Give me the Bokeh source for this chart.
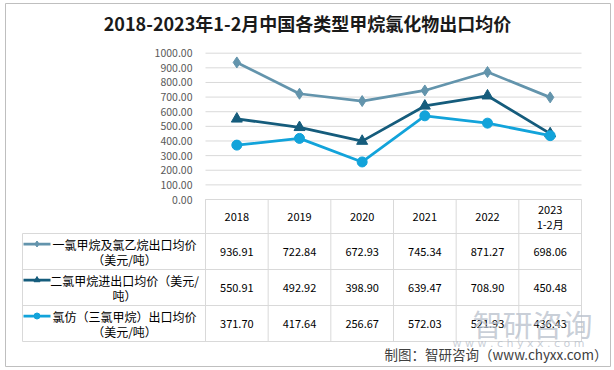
from bokeh.plotting import figure
from bokeh.models import Range1d
from bokeh.core.properties import value
from bokeh.embed import file_html
from bokeh.resources import INLINE

# ---------------- data ----------------
categories = ["2018", "2019", "2020", "2021", "2022", "2023\n1-2月"]
series_names = [
    "一氯甲烷及氯乙烷出口均价\n（美元/吨）",
    "二氯甲烷进出口均价（美元/\n吨）",
    "氯仿（三氯甲烷）出口均价\n（美元/吨）",
]
s1 = [936.91, 722.84, 672.93, 745.34, 871.27, 698.06]
s2 = [550.91, 492.92, 398.90, 639.47, 708.90, 450.48]
s3 = [371.70, 417.64, 256.67, 572.03, 521.93, 436.43]
y_ticks = [0, 100, 200, 300, 400, 500, 600, 700, 800, 900, 1000]
title_text = "2018-2023年1-2月中国各类型甲烷氯化物出口均价"
source_text = "制图：智研咨询（www.chyxx.com）"

# ---------------- layout (page pixels) ----------------
W, H = 614, 370
OFF = 0
TABLE_L, TABLE_R = 205.0, 581.0
LEG_L = 22.0
COL_W = (TABLE_R - TABLE_L) / len(categories)
PLOT_TOP, PLOT_BOT = 52.7, 199.0
K = (PLOT_BOT - PLOT_TOP) / 1000.0
ROW_Y = [199.0, 233.0, 269.0, 305.0, 341.0]

FONT = value("Noto Sans CJK SC")
colors = ["#6394AC", "#155C7C", "#12A3DA"]
markers = ["diamond", "triangle", "circle"]
msizes = [11, 11, 10]


def fx(px):
    return px - OFF


def fy(py):
    return py - OFF


p = figure(width=W, height=H, x_range=Range1d(0, W), y_range=Range1d(H, 0),
           output_backend="svg", toolbar_location=None, min_border=0)
p.axis.visible = False
p.grid.visible = False
p.outline_line_color = None
p.background_fill_color = "white"
p.border_fill_color = "white"

cat_start = (0 - fx(TABLE_L)) / COL_W - 0.5
cat_end = (W - fx(TABLE_L)) / COL_W - 0.5
val_start = (fy(PLOT_BOT) - H) / K
val_end = fy(PLOT_BOT) / K
p.extra_x_ranges = {"cat": Range1d(cat_start, cat_end)}
p.extra_y_ranges = {"val": Range1d(val_start, val_end)}

# outer chart border
p.quad(left=[fx(5)], right=[fx(610)], top=[fy(3)], bottom=[fy(366)],
       fill_color=None, line_color="#BFBFBF", line_width=1)

# gridlines
p.segment(x0=[fx(TABLE_L)] * len(y_ticks), x1=[fx(TABLE_R)] * len(y_ticks),
          y0=y_ticks, y1=y_ticks, y_range_name="val",
          line_color="#D9D9D9", line_width=1)

# tick labels
p.text(x=[fx(TABLE_L - 13)] * len(y_ticks), y=y_ticks,
       text=["%.2f" % t for t in y_ticks], y_range_name="val",
       text_align="right", text_baseline="middle", text_color="#595959",
       text_font=FONT, text_font_size=value("10.5px"))

# series lines
idx = list(range(len(categories)))
for vals, c, m, ms in zip([s1, s2, s3], colors, markers, msizes):
    p.line(x=idx, y=vals, x_range_name="cat", y_range_name="val",
           line_color=c, line_width=2.75)
    p.scatter(x=idx, y=vals, x_range_name="cat", y_range_name="val",
              marker=m, size=ms, fill_color=c, line_color=c)

# ---------------- data table ----------------
n = len(categories)
p.segment(x0=[fx(TABLE_L)], x1=[fx(TABLE_R)], y0=[fy(ROW_Y[0])], y1=[fy(ROW_Y[0])],
          line_color="#D9D9D9", line_width=1)
hy = ROW_Y[1:]
p.segment(x0=[fx(LEG_L)] * len(hy), x1=[fx(TABLE_R)] * len(hy),
          y0=[fy(v) for v in hy], y1=[fy(v) for v in hy],
          line_color="#D9D9D9", line_width=1)
vx = [fx(TABLE_L + COL_W * k) for k in range(n + 1)]
p.segment(x0=vx, x1=vx, y0=[fy(ROW_Y[0])] * len(vx), y1=[fy(ROW_Y[-1])] * len(vx),
          line_color="#D9D9D9", line_width=1)
p.segment(x0=[fx(LEG_L)], x1=[fx(LEG_L)], y0=[fy(ROW_Y[1])], y1=[fy(ROW_Y[-1])],
          line_color="#D9D9D9", line_width=1)

# header texts
hx, hyy, ht = [], [], []
for i, c in enumerate(categories):
    parts = c.split("\n")
    mid = (ROW_Y[0] + ROW_Y[1]) / 2 + 0.5
    step = 14.0
    for j, part in enumerate(parts):
        hx.append(i)
        hyy.append(fy(mid + (j - (len(parts) - 1) / 2) * step))
        ht.append(part)
p.text(x=hx, y=hyy, text=ht, x_range_name="cat", text_align="center",
       text_baseline="middle", text_color="#000000", text_font=FONT,
       text_font_size=value("11px"))

# value texts
for r, vals in enumerate([s1, s2, s3]):
    mid = (ROW_Y[r + 1] + ROW_Y[r + 2]) / 2
    p.text(x=idx, y=[fy(mid)] * n, text=["%.2f" % v for v in vals],
           x_range_name="cat", text_align="center", text_baseline="middle",
           text_color="#000000", text_font=FONT, text_font_size=value("11px"))

# legend labels with keys
for r, (name, c, m) in enumerate(zip(series_names, colors, markers)):
    mid = (ROW_Y[r + 1] + ROW_Y[r + 2]) / 2
    parts = name.split("\n")
    ys = [mid - 7.5, mid + 7.5]
    p.text(x=[fx(124)] * len(parts), y=[fy(v) for v in ys[:len(parts)]], text=parts,
           text_align="center", text_baseline="middle", text_color="#000000",
           text_font=FONT, text_font_size=value("12px"))
    p.segment(x0=[fx(23)], x1=[fx(50)], y0=[fy(ys[0])], y1=[fy(ys[0])],
              line_color=c, line_width=2.75)
    p.scatter(x=[fx(36.5)], y=[fy(ys[0])], marker=m, size=6,
              fill_color=c, line_color=c)

# watermark
p.text(x=[fx(532)], y=[fy(322)], text=["智研咨询"], text_align="center",
       text_baseline="middle", text_color="#B8C0CB", text_alpha=0.75,
       text_font=FONT, text_font_size=value("30px"))
p.text(x=[fx(518)], y=[fy(343)], text=["w w w . c h y x x . c o m"], text_align="center",
       text_baseline="middle", text_color="#B8C0CB", text_alpha=0.75,
       text_font=value("DejaVu Sans"), text_font_size=value("11px"))

# title and source
p.text(x=[fx(307)], y=[fy(22)], text=[title_text], text_align="center",
       text_baseline="middle", text_color="#1A1A1A", text_font=FONT,
       text_font_style="bold", text_font_size=value("18px"))
p.text(x=[fx(607)], y=[fy(353)], text=[source_text], text_align="right",
       text_baseline="middle", text_color="#404040", text_font=FONT,
       text_font_size=value("13.5px"))

open("out.html", "w").write(file_html(p, INLINE))
